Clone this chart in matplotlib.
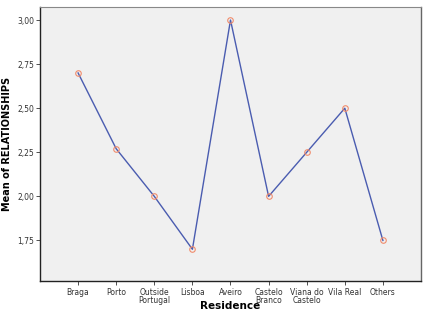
import matplotlib
matplotlib.use('Agg')
import matplotlib.pyplot as plt
import matplotlib.ticker as mticker

residence = ['Braga', 'Porto', 'Outside\nPortugal', 'Lisboa', 'Aveiro', 'Castelo\nBranco',
             'Viana do\nCastelo', 'Vila Real', 'Others']
mean_rel = [2.70, 2.27, 2.00, 1.70, 3.00, 2.00, 2.25, 2.50, 1.75]
yticks = [1.75, 2.00, 2.25, 2.50, 2.75, 3.00]


def main():
    fig = plt.figure(figsize=(4.27, 3.14), dpi=100)
    ax = fig.add_axes([40/427, 1-281/314, 381/427, 274/314])
    ax.set_facecolor('#f0f0f0')

    x = list(range(len(residence)))
    ax.plot(x, mean_rel, color='#4a5cb0', lw=1.0, zorder=2)
    ax.plot(x, mean_rel, 'o', ms=4, mfc='none', mec='#f08c6c', mew=0.8, zorder=3)

    ax.set_xlim(-1, len(residence))
    ax.set_ylim(1.52, 3.074)
    ax.set_xticks(x)
    ax.set_xticklabels(residence, fontsize=5.5, color='#222222', linespacing=0.85)
    ax.set_yticks(yticks)
    ax.yaxis.set_major_formatter(mticker.FuncFormatter(lambda v, p: ('%.2f' % v).replace('.', ',')))
    ax.tick_params(axis='y', labelsize=5.5, length=3, width=0.6, pad=1, colors='#333333')
    ax.tick_params(axis='x', length=3, width=0.6, pad=2, colors='#333333')

    for s in ['left', 'bottom']:
        ax.spines[s].set_color('#222222')
        ax.spines[s].set_linewidth(1.0)
    ax.spines['top'].set_color('#888888')
    ax.spines['right'].set_color('#666666')
    ax.spines['right'].set_linewidth(1.0)

    ax.set_ylabel('Mean of RELATIONSHIPS', fontsize=7, fontweight='bold', labelpad=4)
    # x label placed explicitly so it stays inside the image
    fig.text(230/427, 1 - 306/314, 'Residence', fontsize=7.5, fontweight='bold',
             ha='center', va='center')

    fig.savefig('out.png', dpi=100)


if __name__ == '__main__':
    main()
